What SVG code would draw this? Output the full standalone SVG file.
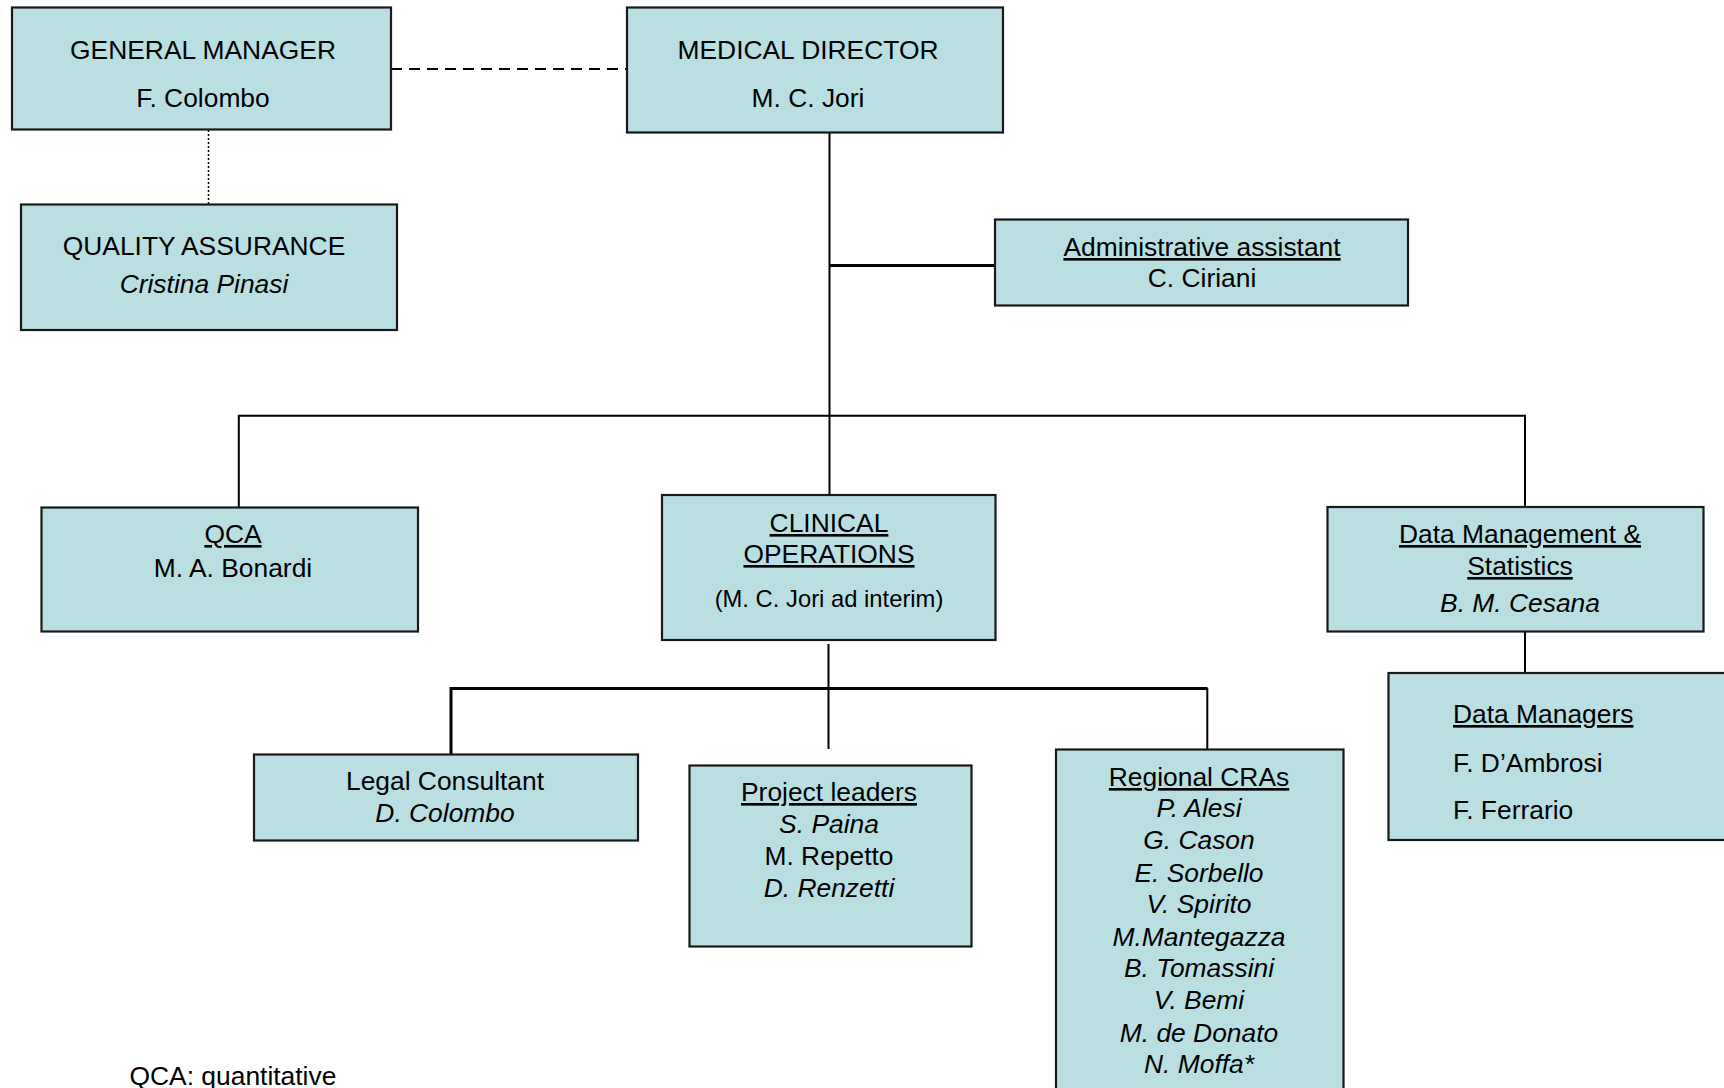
<svg xmlns="http://www.w3.org/2000/svg" width="1724" height="1088" viewBox="0 0 1724 1088">
<style>
.box{fill:#BADFE2;stroke:#1a1a1a;stroke-width:2.2}
text{font-family:"Liberation Sans",Arial,sans-serif;font-size:26.4px;fill:#000;text-anchor:middle}
.i{font-style:italic}
.u{text-decoration:underline}
.l{text-anchor:start}
.ln{stroke:#000;stroke-width:2;fill:none}
.thick{stroke:#000;stroke-width:3;fill:none}
</style>
<rect width="1724" height="1088" fill="#fff"/>
<g id="connectors">
<line class="ln" x1="391" y1="69" x2="627" y2="69" stroke-dasharray="11,7"/>
<line x1="208.5" y1="130" x2="208.5" y2="204" stroke="#000" stroke-width="1.5" stroke-dasharray="2,2"/>
<line class="ln" x1="829.5" y1="129" x2="829.5" y2="495"/>
<line class="thick" x1="829.5" y1="265.5" x2="995" y2="265.5"/>
<polyline class="ln" points="238.8,507 238.8,415.7 1525,415.7 1525,507"/>
<line class="ln" x1="1525" y1="628" x2="1525" y2="673"/>
<line class="ln" x1="828.5" y1="644" x2="828.5" y2="749"/>
<line class="thick" x1="450" y1="688.5" x2="1207.5" y2="688.5"/>
<line class="thick" x1="451" y1="687" x2="451" y2="754"/>
<line class="ln" x1="1207.3" y1="688" x2="1207.3" y2="749"/>
</g>
<g id="general-manager">
<rect class="box" x="12" y="7.5" width="379" height="122"/>
<text x="203" y="59">GENERAL MANAGER</text>
<text x="203" y="107">F. Colombo</text>
</g>
<g id="quality-assurance">
<rect class="box" x="21" y="204.5" width="376" height="125.5"/>
<text x="204" y="255">QUALITY ASSURANCE</text>
<text class="i" x="204" y="293">Cristina Pinasi</text>
</g>
<g id="medical-director">
<rect class="box" x="627" y="7.5" width="376" height="125"/>
<text x="808" y="59">MEDICAL DIRECTOR</text>
<text x="808" y="107">M. C. Jori</text>
</g>
<g id="admin-assistant">
<rect class="box" x="995" y="219.5" width="413" height="86"/>
<text class="u" x="1202" y="256">Administrative assistant</text>
<text x="1202" y="287">C. Ciriani</text>
</g>
<g id="qca">
<rect class="box" x="41.5" y="507.5" width="376.5" height="124"/>
<text class="u" x="233" y="543">QCA</text>
<text x="233" y="577">M. A. Bonardi</text>
</g>
<g id="clinical-operations">
<rect class="box" x="662" y="495" width="333.5" height="145"/>
<text class="u" x="829" y="532">CLINICAL</text>
<text class="u" x="829" y="563">OPERATIONS</text>
<text x="829" y="607" style="font-size:23.8px">(M. C. Jori ad interim)</text>
</g>
<g id="data-management">
<rect class="box" x="1327.5" y="507" width="376" height="124.5"/>
<text class="u" x="1520" y="543">Data Management &amp;</text>
<text class="u" x="1520" y="575">Statistics</text>
<text class="i" x="1520" y="612">B. M. Cesana</text>
</g>
<g id="data-managers">
<rect class="box" x="1388.5" y="673" width="345" height="167"/>
<text class="u l" x="1453" y="723">Data Managers</text>
<text class="l" x="1453" y="772">F. D’Ambrosi</text>
<text class="l" x="1453" y="819">F. Ferrario</text>
</g>
<g id="legal-consultant">
<rect class="box" x="254" y="754.5" width="384" height="86"/>
<text x="445" y="790">Legal Consultant</text>
<text class="i" x="445" y="822">D. Colombo</text>
</g>
<g id="project-leaders">
<rect class="box" x="689.5" y="765.5" width="282" height="181"/>
<text class="u" x="829" y="801">Project leaders</text>
<text class="i" x="829" y="833">S. Paina</text>
<text x="829" y="865">M. Repetto</text>
<text class="i" x="829" y="897">D. Renzetti</text>
</g>
<g id="regional-cras">
<rect class="box" x="1056" y="749.5" width="287.5" height="350"/>
<text class="u" x="1199" y="786">Regional CRAs</text>
<text class="i" x="1199" y="817">P. Alesi</text>
<text class="i" x="1199" y="849">G. Cason</text>
<text class="i" x="1199" y="881.5">E. Sorbello</text>
<text class="i" x="1199" y="913">V. Spirito</text>
<text class="i" x="1199" y="945.5">M.Mantegazza</text>
<text class="i" x="1199" y="977">B. Tomassini</text>
<text class="i" x="1199" y="1009">V. Bemi</text>
<text class="i" x="1199" y="1041.5">M. de Donato</text>
<text class="i" x="1199" y="1073">N. Moffa*</text>
</g>
<g id="note">
<text class="l" x="129.5" y="1085">QCA: quantitative</text>
</g>
</svg>
